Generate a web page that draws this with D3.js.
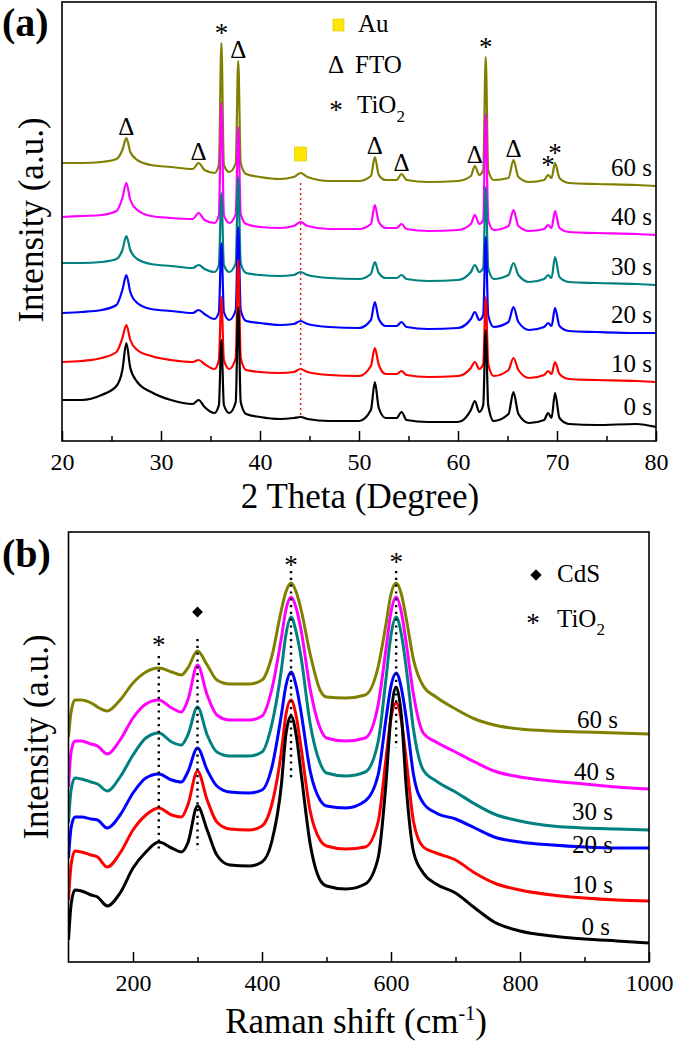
<!DOCTYPE html>
<html><head><meta charset="utf-8">
<script src="https://cdn.jsdelivr.net/npm/d3@7"></script>
<style>
body{margin:0;background:#fff}
svg{display:block}
text{font-family:"Liberation Serif","Times New Roman",serif;fill:#000}
</style>
</head><body>
<script>
// ---------- Panel (a): XRD ----------
const twoTheta = [20,22,24,25.5,26.1,26.5,26.9,27.6,29,31,33.2,33.8,34.4,35.4,35.85,36.1,36.35,36.9,37.55,37.8,38.05,38.6,40,42,43.4,44.1,44.8,47,50,51.2,51.6,52.0,52.7,53.8,54.3,54.8,57,60,61.3,61.7,62.15,62.55,62.8,63.05,63.6,65.1,65.6,66.1,67.2,68.7,69.1,69.45,69.8,70.25,71.2,74,78,80];
const xrd0s  = [41,41,46,55,71,98,73,59,49,41,37,41,34,28,36,101,36,28,39,134,39,27,24,22,23,24,22,20,20,31,59,33,23,23,29,21,19,19,31,40,29,36,111,36,20,27,49,27,18,21,28,23,48,23,17,16,17,14];
const xrd10s = [79,80,83,89,103,116,101,91,85,81,79,81,77,72,81,144,81,72,83,181,83,71,69,68,69,72,69,66,65,75,93,76,67,67,70,66,64,65,73,79,72,77,144,77,65,71,83,71,63,66,70,67,79,67,62,61,60,59];
const xrd20s = [128,129,131,136,151,166,149,138,132,130,128,131,127,122,129,198,129,121,131,214,131,120,118,116,117,120,117,114,113,121,139,122,115,115,119,114,112,113,122,129,121,126,204,126,114,119,134,119,111,114,118,115,133,115,110,109,108,108];
const xrd30s = [178,178,179,182,191,205,191,182,177,175,173,176,172,169,176,248,176,169,178,264,178,168,166,165,166,169,166,163,162,167,179,168,163,163,166,162,160,161,169,176,169,173,254,173,162,166,178,166,159,162,166,163,184,164,159,158,157,156];
const xrd40s = [224,225,226,230,243,258,241,231,225,223,222,228,221,218,226,338,226,218,227,314,227,217,214,213,215,219,215,212,212,217,236,219,213,213,217,212,210,211,217,226,217,221,327,221,211,215,231,215,210,212,216,213,230,213,209,208,207,206];
const xrd60s = [278,278,279,282,291,303,289,281,276,274,272,278,271,268,276,398,276,269,278,380,278,267,264,262,264,268,264,260,260,265,284,266,261,261,267,261,259,260,265,275,266,271,384,271,261,263,281,264,259,261,266,263,278,263,258,257,256,255];
const xrdTicks = [20,30,40,50,60,70,80];
const xrdMinorTicks = [25,35,45,55,65,75];
const xrdMarkerPos  = [26.5,33.8,36.1,37.8,44.1,51.6,54.3,61.7,62.8,65.6,69.1,69.8];
const xrdMarkerType = ["FTO","FTO","TiO2","FTO","Au","FTO","FTO","FTO","TiO2","FTO","TiO2","TiO2"];

// ---------- Panel (b): Raman ----------
const ramanShift = [100,104,110,120,135,145,160,180,200,220,240,260,275,285,300,315,330,350,380,400,415,430,437,445,453,460,475,490,500,530,560,580,592,600,608,616,624,635,650,670,700,730,760,800,850,900,950,1000];
const raman0s  = [22,57,72,71,67,65,56,69,94,110,120,114,110,119,156,132,107,97,96,100,120,177,227,246,227,192,117,82,76,73,78,104,177,247,275,247,172,110,89,78,69,54,40,31,26,23,21,19];
const raman10s = [62,97,111,110,107,105,95,109,132,147,154,147,145,157,191,162,140,133,132,136,157,210,247,262,246,217,150,122,116,113,115,140,202,244,259,242,200,140,115,109,102,89,79,72,67,64,62,61];
const raman20s = [104,134,145,145,143,142,134,147,169,184,188,182,180,190,214,192,176,170,169,172,194,247,276,290,276,252,190,162,156,154,161,187,242,276,289,274,242,187,159,149,143,134,125,120,117,115,114,114];
const raman30s = [139,172,184,183,180,178,171,185,207,224,229,220,217,227,255,227,210,206,206,210,237,292,327,345,330,307,237,199,189,186,190,220,282,327,345,328,292,232,192,181,170,158,148,141,136,134,133,132];
const raman40s = [175,210,221,221,218,216,208,222,244,258,262,254,250,262,297,267,247,242,242,246,272,324,352,365,354,334,272,234,224,221,224,257,312,350,365,350,317,267,229,220,210,200,191,185,181,178,175,173];
const raman60s = [225,250,262,262,259,255,251,262,279,290,294,290,287,294,311,297,282,278,278,282,305,352,370,379,370,354,307,272,265,264,267,295,337,368,379,368,342,302,276,265,253,243,237,233,231,230,229,228];
const ramanTicks = [200,400,600,800,1000];
const ramanMinorTicks = [300,500,700,900];
const ramanMarkerPos  = [240,300,445,608];
const ramanMarkerType = ["TiO2","CdS","TiO2","TiO2"];
const ramanGuideBottom = [109,112,184,214];

const seriesLabels = ["60 s","40 s","30 s","20 s","10 s","0 s"];
const seriesColors = ["#808000","#FF00FF","#008080","#0000FF","#FF0000","#000000"];
const xrdSeries = [xrd60s,xrd40s,xrd30s,xrd20s,xrd10s,xrd0s];
const ramanSeries = [raman60s,raman40s,raman30s,raman20s,raman10s,raman0s];

// ---------- drawing ----------
const W = 675, H = 1043;
const svg = d3.select("body").append("svg").attr("width",W).attr("height",H);

const xa = d3.scaleLinear().domain([20,80]).range([62,656]);
const ya = d3.scaleLinear().domain([0,439]).range([441,2]);
const xb = d3.scaleLinear().domain([100,1000]).range([68.5,649]);
const yb = d3.scaleLinear().domain([0,430]).range([962,532]);

function frame(x, y){
  svg.append("rect")
    .attr("x", x.range()[0]).attr("y", y.range()[1])
    .attr("width", x.range()[1]-x.range()[0])
    .attr("height", y.range()[0]-y.range()[1])
    .attr("fill","none").attr("stroke","#000").attr("stroke-width",1.6);
}
function xAxis(x, y, ticks, minor, fmt){
  const g = svg.append("g").attr("transform",`translate(0,${y.range()[0]})`)
    .call(d3.axisBottom(x).tickValues(ticks).tickSize(-10).tickPadding(12).tickFormat(fmt));
  g.select(".domain").remove();
  g.selectAll(".tick line").attr("stroke","#000").attr("stroke-width",1.5);
  g.selectAll(".tick text").attr("font-size",24).attr("font-family","Liberation Serif").attr("fill","#000");
  const m = svg.append("g").attr("transform",`translate(0,${y.range()[0]})`)
    .call(d3.axisBottom(x).tickValues(minor).tickSize(-5).tickFormat(""));
  m.select(".domain").remove();
  m.selectAll(".tick line").attr("stroke","#000").attr("stroke-width",1.5);
}
function asterisk(x, cy, size){
  svg.append("text").attr("x",x).attr("y",cy + size*0.5).attr("text-anchor","middle")
    .attr("font-size",size).text("*");
}

// ===== Panel (a) =====
const lineA = d3.line().x((d,i)=>xa(twoTheta[i])).y(d=>ya(d)).curve(d3.curveMonotoneX);
svg.append("clipPath").attr("id","clipA").append("rect")
  .attr("x",62).attr("y",2).attr("width",594).attr("height",439);
const gA = svg.append("g").attr("clip-path","url(#clipA)");
xrdSeries.forEach((s,k)=>{
  gA.append("path").attr("d",lineA(s)).attr("fill","none")
    .attr("stroke",seriesColors[k]).attr("stroke-width",2.2).attr("stroke-linejoin","round");
});

// Au guide line
const auIdx = twoTheta.indexOf(44.1);
svg.append("line")
  .attr("x1",xa(44.1)).attr("x2",xa(44.1))
  .attr("y1",ya(xrd60s[auIdx])+10).attr("y2",ya(xrd0s[auIdx]))
  .attr("stroke","#E02020").attr("stroke-width",1.5).attr("stroke-dasharray","2,3");

// markers (a)
function olivePeakY(pos){ const i = twoTheta.indexOf(pos); return ya(xrd60s[i]); }
xrdMarkerPos.forEach((p,i)=>{
  const t = xrdMarkerType[i], yy = olivePeakY(p), xx = xa(p);
  if(t==="FTO"){
    svg.append("text").attr("x",xx).attr("y",yy-3).attr("text-anchor","middle").attr("font-size",25).text("Δ");
  } else if(t==="TiO2"){
    asterisk(xx, yy-15, 27);
  } else {
    svg.append("rect").attr("x",xx-6).attr("y",yy-26).attr("width",12).attr("height",14)
      .attr("fill","#FFE800").attr("stroke","#D8C000").attr("stroke-width",0.6);
  }
});

frame(xa, ya);
xAxis(xa, ya, xrdTicks, xrdMinorTicks, d3.format("d"));

// series labels (a)
const labelLiftA = [10,10,10,10,10,12];
xrdSeries.forEach((s,k)=>{
  svg.append("text").attr("x",xa(80)-4).attr("y",ya(s[s.length-1])-labelLiftA[k])
    .attr("text-anchor","end").attr("font-size",25).text(seriesLabels[k]);
});

// legend (a)
svg.append("rect").attr("x",333).attr("y",19).attr("width",11).attr("height",12)
  .attr("fill","#FFE800").attr("stroke","#D8C000").attr("stroke-width",0.6);
svg.append("text").attr("x",358).attr("y",32).attr("font-size",25).text("Au");
svg.append("text").attr("x",336).attr("y",73).attr("text-anchor","middle").attr("font-size",25).text("Δ");
svg.append("text").attr("x",355).attr("y",73).attr("font-size",25).text("FTO");
asterisk(336, 105, 27);
const tA = svg.append("text").attr("x",357).attr("y",113).attr("font-size",25);
tA.append("tspan").text("TiO");
tA.append("tspan").attr("dy",9).attr("font-size",17).text("2");

// titles (a)
svg.append("text").attr("x",2).attr("y",36).attr("font-size",40).attr("font-weight","bold").text("(a)");
svg.append("text").attr("x",360).attr("y",508).attr("text-anchor","middle").attr("font-size",35).text("2 Theta (Degree)");
svg.append("text").attr("transform","translate(43,220) rotate(-90)").attr("text-anchor","middle").attr("font-size",35).text("Intensity (a.u.)");

// ===== Panel (b) =====
const lineB = d3.line().x((d,i)=>xb(ramanShift[i])).y(d=>yb(d)).curve(d3.curveMonotoneX);
svg.append("clipPath").attr("id","clipB").append("rect")
  .attr("x",68.5).attr("y",532).attr("width",580.5).attr("height",430);
const gB = svg.append("g").attr("clip-path","url(#clipB)");

// guides
function ramanY(series,pos){ return yb(series[ramanShift.indexOf(pos)]); }
ramanMarkerPos.forEach((p,i)=>{
  svg.append("line").attr("x1",xb(p)).attr("x2",xb(p))
    .attr("y1",ramanY(raman60s,p)-12).attr("y2",yb(ramanGuideBottom[i]))
    .attr("stroke","#000").attr("stroke-width",2.4).attr("stroke-dasharray","2.2,4.6");
});

ramanSeries.forEach((s,k)=>{
  gB.append("path").attr("d",lineB(s)).attr("fill","none")
    .attr("stroke",seriesColors[k]).attr("stroke-width",3).attr("stroke-linejoin","round");
});

// markers (b)
const markerGapB = [28,39,23,26];
ramanMarkerPos.forEach((p,i)=>{
  const xx = xb(p), cy = ramanY(raman60s,p) - markerGapB[i];
  if(ramanMarkerType[i]==="CdS"){
    svg.append("path").attr("d",d3.symbol().type(d3.symbolSquare).size(58)())
      .attr("transform",`translate(${xx},${cy}) rotate(45)`).attr("fill","#000");
  } else {
    asterisk(xx, cy, 27);
  }
});

frame(xb, yb);
xAxis(xb, yb, ramanTicks, ramanMinorTicks, d3.format("d"));

// series labels (b)
const labelLiftB = [6,9,10,-5,8,8];
const labelRightB = [618,615,613,613,613,610];
ramanSeries.forEach((s,k)=>{
  svg.append("text").attr("x",labelRightB[k]).attr("y",yb(s[s.length-1])-labelLiftB[k])
    .attr("text-anchor","end").attr("font-size",25).text(seriesLabels[k]);
});

// legend (b)
svg.append("path").attr("d",d3.symbol().type(d3.symbolSquare).size(64)())
  .attr("transform","translate(536,575) rotate(45)").attr("fill","#000");
svg.append("text").attr("x",557).attr("y",582).attr("font-size",25).text("CdS");
asterisk(533, 618, 27);
const tB = svg.append("text").attr("x",557).attr("y",627).attr("font-size",25);
tB.append("tspan").text("TiO");
tB.append("tspan").attr("dy",8).attr("font-size",17).text("2");

// titles (b)
svg.append("text").attr("x",2).attr("y",567).attr("font-size",40).attr("font-weight","bold").text("(b)");
const xt = svg.append("text").attr("x",356).attr("y",1033).attr("text-anchor","middle").attr("font-size",35);
xt.append("tspan").text("Raman shift (cm");
xt.append("tspan").attr("dy",-13).attr("font-size",20).text("-1");
xt.append("tspan").attr("dy",13).text(")");
svg.append("text").attr("transform","translate(48,737) rotate(-90)").attr("text-anchor","middle").attr("font-size",35).text("Intensity (a.u.)");
</script>
</body></html>
